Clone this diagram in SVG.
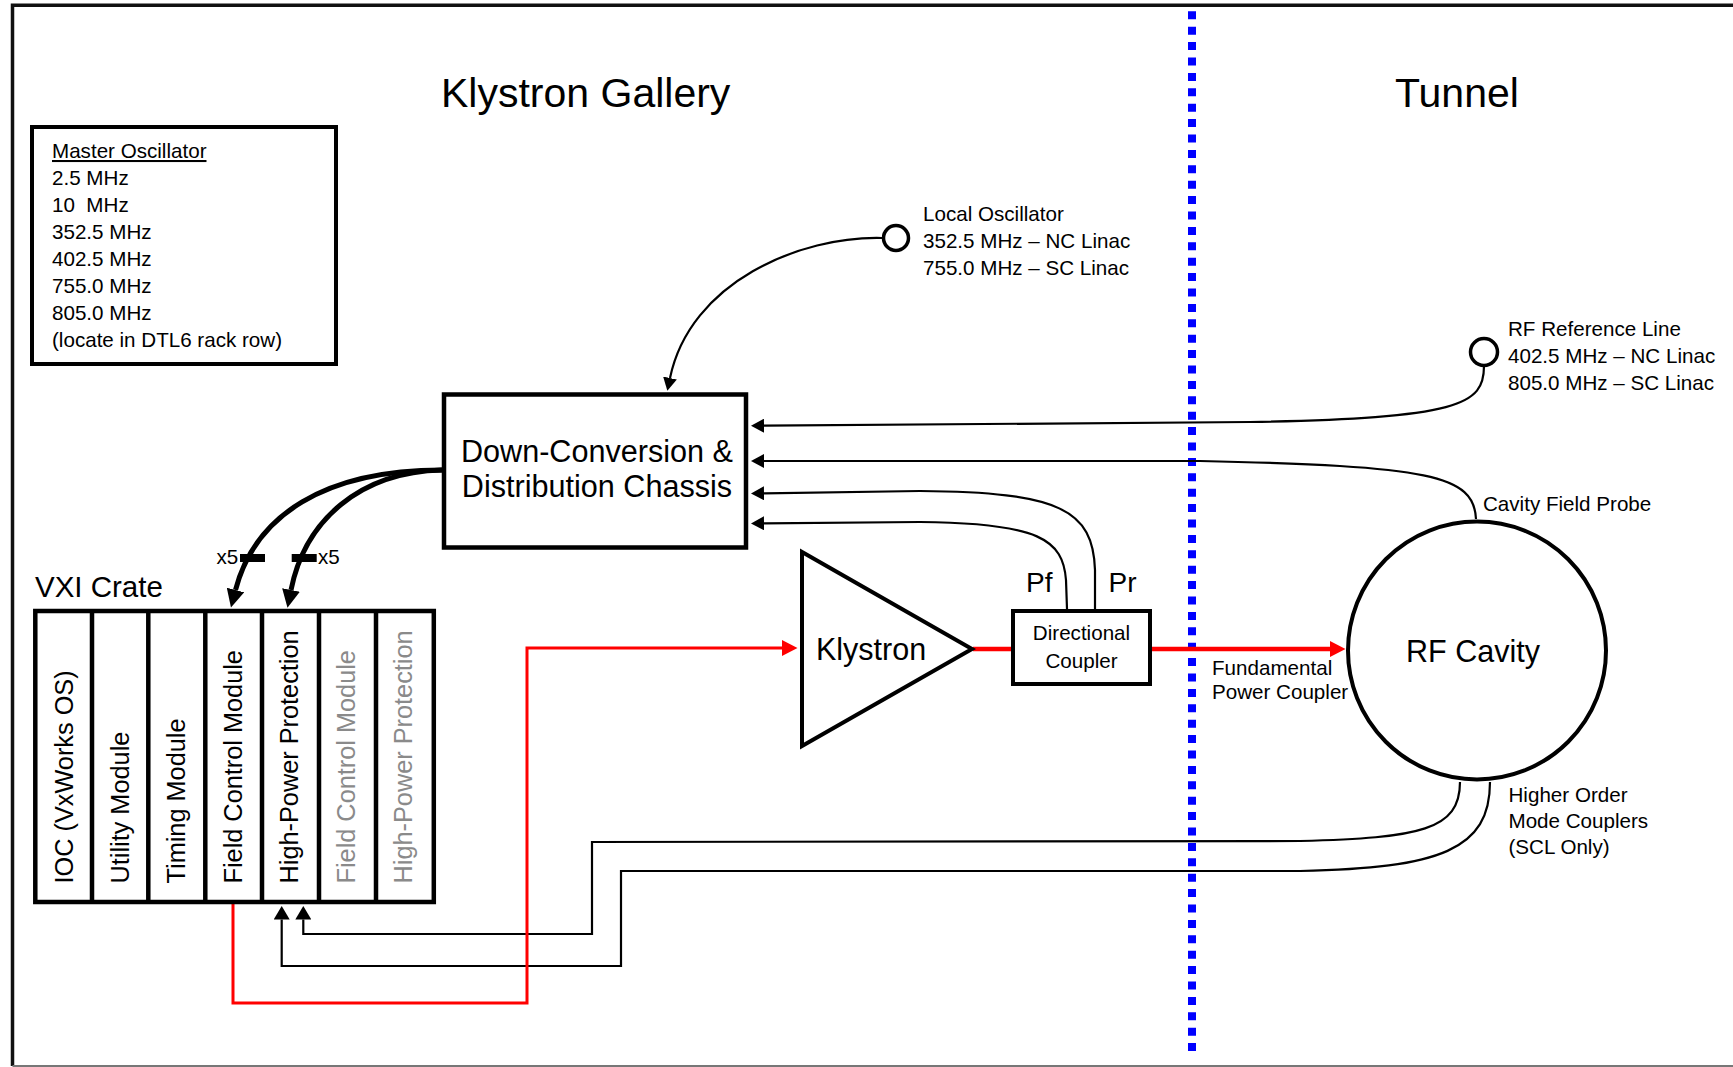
<svg xmlns="http://www.w3.org/2000/svg" width="1733" height="1067" viewBox="0 0 1733 1067">
<style>
text{font-family:"Liberation Sans",Arial,Helvetica,sans-serif;fill:#000}
.t20{font-size:20.6px}
.t28{font-size:28px}
.t30{font-size:30.5px}
.title{font-size:41px}
.slot{font-size:25.3px}
.gray{fill:#8a8a8a}
.thin{fill:none;stroke:#000;stroke-width:2.2}
.thick{fill:none;stroke:#000;stroke-width:5}
.red{fill:none;stroke:#ff0000;stroke-width:3}
.redthick{fill:none;stroke:#ff0000;stroke-width:4.6}
</style>
<defs>
<marker id="arr" markerUnits="userSpaceOnUse" markerWidth="14" markerHeight="14" refX="0" refY="7" orient="auto" viewBox="0 0 14 14">
<path d="M0,0 L13,7 L0,14 z" fill="#000"/>
</marker>
<marker id="arrBig" markerUnits="userSpaceOnUse" markerWidth="19" markerHeight="18" refX="0" refY="9" orient="auto" viewBox="0 0 19 18">
<path d="M0,0 L18,9 L0,18 z" fill="#000"/>
</marker>
<marker id="arrUp" markerUnits="userSpaceOnUse" markerWidth="14" markerHeight="16" refX="0" refY="8" orient="auto" viewBox="0 0 14 16">
<path d="M0,0 L13.5,8 L0,16 z" fill="#000"/>
</marker>
<marker id="arrRed" markerUnits="userSpaceOnUse" markerWidth="16" markerHeight="16" refX="0" refY="8" orient="auto" viewBox="0 0 16 16">
<path d="M0,0 L15.5,8 L0,16 z" fill="#ff0000"/>
</marker>
</defs>

<rect width="1733" height="1067" fill="#fff"/>

<g id="frame">
<path d="M1740,5.3 L12.5,5.3 L12.5,1066" fill="none" stroke="#111" stroke-width="3.5"/>
<line x1="12.5" y1="1066" x2="1740" y2="1066" stroke="#777" stroke-width="2"/>
</g>

<g id="divider">
<line x1="1192" y1="11.3" x2="1192" y2="1053" stroke="#0000ff" stroke-width="8" stroke-dasharray="8 7.4"/>
</g>

<g id="titles">
<text class="title" x="441" y="107">Klystron Gallery</text>
<text class="title" x="1395" y="107">Tunnel</text>
</g>

<g id="master-oscillator">
<rect x="32" y="127" width="304" height="237" fill="#fff" stroke="#000" stroke-width="4"/>
<text class="t20" x="52" y="158" text-decoration="underline">Master Oscillator</text>
<text class="t20" x="52" y="185">2.5 MHz</text>
<text class="t20" x="52" y="212" xml:space="preserve">10  MHz</text>
<text class="t20" x="52" y="239">352.5 MHz</text>
<text class="t20" x="52" y="266">402.5 MHz</text>
<text class="t20" x="52" y="293">755.0 MHz</text>
<text class="t20" x="52" y="320">805.0 MHz</text>
<text class="t20" x="52" y="347">(locate in DTL6 rack row)</text>
</g>

<g id="connectors">
<path class="thin" d="M882,238 C800,236 690,282 670,378" marker-end="url(#arr)"/>
<path class="thin" d="M1484,366 C1484,405 1460,418 1250,422 L764,425.7" marker-end="url(#arr)"/>
<path class="thin" d="M1476,519 C1474,475 1430,466 1200,461 L764,461" marker-end="url(#arr)"/>
<path class="thin" d="M1095,609 L1095,570 C1093,510 1060,492 920,491 L764,493.3" marker-end="url(#arr)"/>
<path class="thin" d="M1067,609 L1066,580 C1063,540 1040,523 920,522 L764,523.3" marker-end="url(#arr)"/>
<path class="thick" d="M442,470 C325,470 255,515 235.5,590" marker-end="url(#arrBig)"/>
<path class="thick" d="M442,470 C360,472 305,520 291,590" marker-end="url(#arrBig)"/>
<rect x="240" y="554" width="25" height="8" fill="#000"/>
<rect x="291.7" y="554" width="25" height="8" fill="#000"/>
<text class="t20" x="216.5" y="564">x5</text>
<text class="t20" x="318" y="564">x5</text>
<path class="thin" d="M1460,782 C1460,830 1420,838 1300,841 L592,842 L592,934 L303.3,934 L303.3,919.5" marker-end="url(#arrUp)"/>
<path class="thin" d="M1490,782 C1490,850 1440,868 1300,871 L621,871 L621,966 L281.7,966 L281.7,919.5" marker-end="url(#arrUp)"/>
<path class="red" d="M233,902 L233,1003 L527,1003 L527,648 L782,648" marker-end="url(#arrRed)"/>
<path class="redthick" d="M973,649 L1013,649" stroke-width="5"/>
<path class="redthick" d="M1150,649 L1330,649" marker-end="url(#arrRed)"/>
</g>

<g id="local-oscillator">
<circle cx="896" cy="238" r="12.5" fill="#fff" stroke="#000" stroke-width="3.5"/>
<text class="t20" x="923" y="221">Local Oscillator</text>
<text class="t20" x="923" y="248">352.5 MHz – NC Linac</text>
<text class="t20" x="923" y="275">755.0 MHz – SC Linac</text>
</g>

<g id="rf-reference-line">
<circle cx="1484" cy="352" r="13.5" fill="#fff" stroke="#000" stroke-width="3.5"/>
<text class="t20" x="1508" y="336">RF Reference Line</text>
<text class="t20" x="1508" y="363">402.5 MHz – NC Linac</text>
<text class="t20" x="1508" y="390">805.0 MHz – SC Linac</text>
</g>

<g id="down-conversion-chassis">
<rect x="444" y="394.5" width="302" height="153" fill="#fff" stroke="#000" stroke-width="4.5"/>
<text x="597" y="462" text-anchor="middle" style="font-size:30.6px">Down-Conversion &amp;</text>
<text x="597" y="497" text-anchor="middle" style="font-size:30.6px">Distribution Chassis</text>
</g>

<g id="vxi-crate">
<text x="35" y="597.4" style="font-size:29.5px">VXI Crate</text>
<rect x="35.3" y="611" width="398.5" height="291" fill="#fff" stroke="#000" stroke-width="4.5"/>
<g stroke="#000" stroke-width="4.5">
<line x1="92" y1="611" x2="92" y2="902"/>
<line x1="148.3" y1="611" x2="148.3" y2="902"/>
<line x1="205.3" y1="611" x2="205.3" y2="902"/>
<line x1="262" y1="611" x2="262" y2="902"/>
<line x1="319" y1="611" x2="319" y2="902"/>
<line x1="376" y1="611" x2="376" y2="902"/>
</g>
<text class="slot" transform="translate(73,883.5) rotate(-90)">IOC (VxWorks OS)</text>
<text class="slot" transform="translate(128.5,883.5) rotate(-90)">Utility Module</text>
<text class="slot" transform="translate(185,883.5) rotate(-90)">Timing Module</text>
<text class="slot" transform="translate(241.5,883.5) rotate(-90)">Field Control Module</text>
<text class="slot" transform="translate(298,883.5) rotate(-90)">High-Power Protection</text>
<text class="slot gray" transform="translate(355,883.5) rotate(-90)">Field Control Module</text>
<text class="slot gray" transform="translate(412,883.5) rotate(-90)">High-Power Protection</text>
</g>

<g id="klystron">
<path d="M802,552 L802,746 L972,649 z" fill="#fff" stroke="#000" stroke-width="4"/>
<text class="t30" x="816" y="659.5">Klystron</text>
</g>

<g id="directional-coupler">
<rect x="1013" y="611" width="137" height="73" fill="#fff" stroke="#000" stroke-width="4"/>
<text class="t20" x="1081.5" y="640" text-anchor="middle">Directional</text>
<text class="t20" x="1081.5" y="668" text-anchor="middle">Coupler</text>
<text class="t28" x="1026" y="592">Pf</text>
<text class="t28" x="1108.5" y="592">Pr</text>
</g>

<g id="rf-cavity">
<circle cx="1477" cy="650.5" r="129" fill="none" stroke="#000" stroke-width="4"/>
<text class="t30" x="1473" y="662" text-anchor="middle">RF Cavity</text>
<text class="t20" x="1483" y="511">Cavity Field Probe</text>
<text class="t20" x="1212" y="675">Fundamental</text>
<text class="t20" x="1212" y="699">Power Coupler</text>
<text class="t20" x="1508.5" y="801.5">Higher Order</text>
<text class="t20" x="1508.5" y="828">Mode Couplers</text>
<text class="t20" x="1508.5" y="854">(SCL Only)</text>
</g>
</svg>
